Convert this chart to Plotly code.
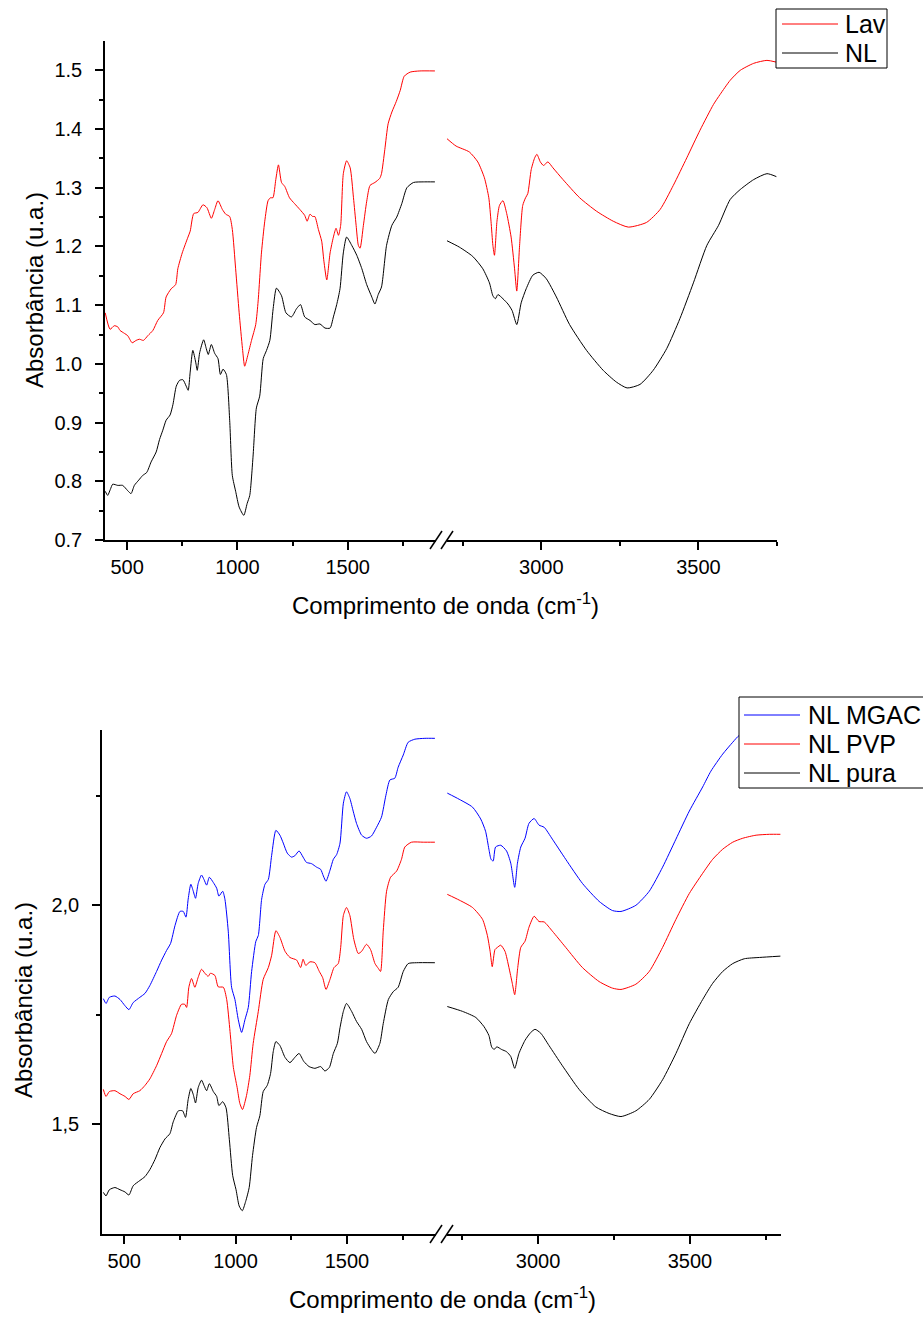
import plotly.graph_objects as go

W, H = 923, 1318

# ---- spectra (wavenumber cm-1, absorbance) ----
# top panel, 400-1900 cm-1
wn_lav_low = [401, 423, 442, 458, 468, 488, 503, 523, 541, 556,
              574, 594, 617, 639, 665, 677, 700, 720, 730, 750,
              776, 786, 802, 821, 844, 862, 882, 897, 912, 932,
              947, 965, 977, 992, 1008, 1023, 1033, 1048, 1064, 1083,
              1094, 1109, 1124, 1139, 1150, 1161, 1174, 1186, 1200, 1215,
              1236, 1259, 1283, 1305, 1316, 1329, 1341, 1351, 1367, 1382,
              1392, 1405, 1420, 1435, 1447, 1458, 1468, 1480, 1495, 1511,
              1526, 1538, 1548, 1556, 1571, 1586, 1601, 1623, 1645, 1653,
              1668, 1683, 1700, 1720, 1738, 1756, 1783, 1827, 1895]
abs_lav_low = [1.087, 1.059, 1.065, 1.063, 1.057, 1.052, 1.048, 1.036, 1.040, 1.042,
               1.040, 1.048, 1.057, 1.074, 1.087, 1.114, 1.128, 1.135, 1.162, 1.189,
               1.216, 1.226, 1.256, 1.258, 1.271, 1.266, 1.248, 1.263, 1.278, 1.263,
               1.255, 1.251, 1.229, 1.162, 1.087, 1.026, 0.996, 1.016, 1.040, 1.067,
               1.107, 1.189, 1.243, 1.278, 1.283, 1.283, 1.314, 1.339, 1.309, 1.302,
               1.283, 1.273, 1.263, 1.253, 1.243, 1.255, 1.251, 1.251, 1.229, 1.209,
               1.175, 1.143, 1.189, 1.216, 1.231, 1.219, 1.236, 1.324, 1.346, 1.334,
               1.283, 1.236, 1.202, 1.197, 1.236, 1.277, 1.304, 1.309, 1.316, 1.324,
               1.365, 1.409, 1.429, 1.447, 1.466, 1.490, 1.497, 1.499, 1.499]

wn_nl_low = [401, 412, 424, 435, 458, 480, 503, 518, 533, 553,
             571, 589, 609, 632, 647, 662, 677, 695, 708, 723,
             738, 753, 768, 777, 786, 798, 811, 818, 829, 847,
             859, 868, 882, 897, 912, 923, 935, 950, 965, 977,
             992, 1008, 1029, 1044, 1056, 1071, 1086, 1101, 1117, 1132,
             1147, 1162, 1177, 1200, 1220, 1245, 1268, 1286, 1305, 1329,
             1351, 1374, 1397, 1420, 1435, 1450, 1465, 1480, 1495, 1518,
             1541, 1564, 1586, 1609, 1623, 1638, 1653, 1676, 1700, 1722,
             1745, 1768, 1798, 1842, 1895]
abs_nl_low = [0.783, 0.776, 0.786, 0.795, 0.793, 0.793, 0.784, 0.779, 0.793, 0.802,
              0.810, 0.815, 0.833, 0.850, 0.871, 0.887, 0.904, 0.913, 0.931, 0.962,
              0.972, 0.973, 0.962, 0.955, 0.986, 1.023, 1.003, 0.989, 1.019, 1.041,
              1.026, 1.016, 1.033, 1.018, 1.009, 0.982, 0.991, 0.982, 0.904, 0.810,
              0.783, 0.756, 0.742, 0.762, 0.776, 0.843, 0.925, 0.945, 1.009, 1.023,
              1.040, 1.094, 1.129, 1.116, 1.087, 1.080, 1.094, 1.101, 1.080, 1.074,
              1.067, 1.068, 1.061, 1.061, 1.080, 1.101, 1.128, 1.189, 1.216, 1.202,
              1.185, 1.162, 1.135, 1.114, 1.102, 1.118, 1.131, 1.202, 1.236, 1.250,
              1.273, 1.300, 1.309, 1.310, 1.310]

# top panel, 2700-3750 cm-1
wn_lav_high = [2699, 2729, 2771, 2798, 2819, 2833, 2840, 2846, 2851, 2859,
               2867, 2878, 2890, 2904, 2915, 2922, 2931, 2941, 2950, 2957,
               2968, 2979, 2986, 2997, 3007, 3021, 3037, 3069, 3122, 3176,
               3229, 3277, 3335, 3378, 3420, 3463, 3505, 3548, 3569, 3601,
               3633, 3676, 3718, 3748]
abs_lav_high = [1.384, 1.371, 1.361, 1.344, 1.317, 1.283, 1.243, 1.202, 1.185, 1.243,
                1.270, 1.278, 1.256, 1.216, 1.162, 1.124, 1.202, 1.270, 1.283, 1.290,
                1.331, 1.351, 1.357, 1.344, 1.338, 1.344, 1.334, 1.314, 1.283, 1.260,
                1.243, 1.233, 1.241, 1.263, 1.304, 1.351, 1.398, 1.442, 1.459, 1.483,
                1.500, 1.512, 1.517, 1.514]

wn_nl_high = [2699, 2739, 2782, 2814, 2835, 2846, 2854, 2862, 2878, 2894,
              2907, 2922, 2936, 2952, 2973, 2993, 3016, 3048, 3090, 3144,
              3197, 3239, 3273, 3314, 3356, 3399, 3441, 3484, 3527, 3564,
              3601, 3633, 3676, 3718, 3748]
abs_nl_high = [1.210, 1.199, 1.183, 1.162, 1.138, 1.116, 1.111, 1.118, 1.111, 1.102,
               1.091, 1.067, 1.104, 1.128, 1.151, 1.156, 1.145, 1.114, 1.067, 1.023,
               0.989, 0.969, 0.959, 0.965, 0.989, 1.026, 1.077, 1.138, 1.202, 1.236,
               1.280, 1.297, 1.314, 1.324, 1.319]

# bottom panel, 400-1900 cm-1
wn_mgac_low = [406, 418, 433, 458, 481, 503, 521, 540, 570, 593,
               615, 645, 668, 690, 708, 728, 750, 765, 777, 787,
               799, 810, 820, 832, 847, 858, 870, 882, 900, 915,
               925, 942, 952, 967, 982, 997, 1012, 1027, 1042, 1057,
               1072, 1091, 1102, 1117, 1132, 1147, 1162, 1181, 1199, 1214,
               1232, 1251, 1266, 1285, 1303, 1318, 1341, 1364, 1382, 1394,
               1406, 1424, 1439, 1454, 1469, 1484, 1498, 1513, 1528, 1543,
               1566, 1588, 1610, 1633, 1655, 1675, 1693, 1715, 1730, 1753,
               1775, 1805, 1850, 1895]
abs_mgac_low = [1.787, 1.776, 1.790, 1.793, 1.785, 1.771, 1.762, 1.778, 1.790, 1.799,
                1.817, 1.849, 1.875, 1.897, 1.913, 1.954, 1.986, 1.986, 1.973, 2.014,
                2.048, 2.032, 2.016, 2.050, 2.069, 2.059, 2.046, 2.064, 2.052, 2.039,
                2.021, 2.032, 2.014, 1.941, 1.813, 1.785, 1.739, 1.710, 1.739, 1.767,
                1.849, 1.918, 1.931, 2.014, 2.048, 2.059, 2.114, 2.171, 2.160, 2.142,
                2.119, 2.110, 2.113, 2.124, 2.110, 2.098, 2.095, 2.087, 2.082, 2.067,
                2.055, 2.080, 2.105, 2.116, 2.142, 2.233, 2.259, 2.244, 2.215, 2.187,
                2.160, 2.153, 2.158, 2.178, 2.201, 2.251, 2.286, 2.290, 2.315, 2.343,
                2.372, 2.379, 2.381, 2.381]

wn_pvp_low = [406, 418, 433, 458, 481, 503, 521, 540, 570, 593,
              615, 645, 668, 690, 712, 735, 757, 772, 780, 790,
              802, 817, 832, 847, 862, 877, 887, 907, 922, 945,
              960, 975, 990, 1007, 1019, 1031, 1049, 1064, 1079, 1102,
              1124, 1147, 1162, 1181, 1199, 1222, 1244, 1274, 1292, 1303,
              1315, 1334, 1356, 1376, 1391, 1406, 1424, 1442, 1461, 1472,
              1484, 1498, 1513, 1531, 1551, 1566, 1588, 1606, 1626, 1641,
              1651, 1663, 1678, 1696, 1723, 1745, 1760, 1790, 1843, 1895]
abs_pvp_low = [1.580, 1.564, 1.575, 1.577, 1.570, 1.564, 1.557, 1.570, 1.577, 1.589,
               1.604, 1.634, 1.662, 1.689, 1.707, 1.749, 1.774, 1.774, 1.767, 1.813,
               1.833, 1.813, 1.836, 1.854, 1.845, 1.838, 1.845, 1.840, 1.814, 1.813,
               1.785, 1.712, 1.630, 1.584, 1.548, 1.534, 1.566, 1.612, 1.685, 1.758,
               1.831, 1.858, 1.886, 1.942, 1.927, 1.895, 1.881, 1.875, 1.858, 1.877,
               1.863, 1.871, 1.869, 1.849, 1.835, 1.808, 1.831, 1.858, 1.867, 1.904,
               1.977, 1.995, 1.977, 1.922, 1.890, 1.895, 1.911, 1.899, 1.867, 1.856,
               1.849, 1.941, 2.032, 2.064, 2.078, 2.105, 2.133, 2.144, 2.144, 2.144]

wn_pura_low = [406, 418, 433, 458, 481, 503, 521, 540, 570, 593,
               615, 638, 660, 683, 705, 720, 743, 762, 775, 787,
               799, 810, 820, 832, 847, 858, 870, 882, 900, 915,
               925, 942, 957, 972, 987, 1002, 1016, 1030, 1045, 1061,
               1076, 1094, 1109, 1124, 1142, 1157, 1169, 1181, 1199, 1222,
               1244, 1266, 1285, 1306, 1330, 1356, 1382, 1401, 1421, 1439,
               1457, 1469, 1484, 1498, 1521, 1543, 1566, 1588, 1610, 1626,
               1648, 1663, 1686, 1708, 1730, 1753, 1775, 1812, 1895]
abs_pura_low = [1.345, 1.337, 1.351, 1.356, 1.351, 1.346, 1.339, 1.360, 1.372, 1.381,
                1.397, 1.420, 1.447, 1.467, 1.479, 1.506, 1.531, 1.531, 1.516, 1.557,
                1.582, 1.568, 1.549, 1.584, 1.601, 1.589, 1.577, 1.593, 1.575, 1.564,
                1.543, 1.552, 1.538, 1.465, 1.383, 1.351, 1.314, 1.303, 1.324, 1.356,
                1.429, 1.493, 1.520, 1.575, 1.589, 1.616, 1.666, 1.689, 1.680, 1.653,
                1.641, 1.653, 1.662, 1.644, 1.632, 1.628, 1.632, 1.622, 1.630, 1.662,
                1.685, 1.721, 1.758, 1.776, 1.758, 1.735, 1.717, 1.689, 1.671, 1.662,
                1.685, 1.730, 1.785, 1.803, 1.813, 1.849, 1.867, 1.869, 1.869]

# bottom panel, 2700-3800 cm-1
wn_mgac_high = [2701, 2740, 2784, 2811, 2827, 2838, 2845, 2852, 2860, 2877,
                2896, 2910, 2923, 2932, 2943, 2957, 2970, 2987, 3003, 3020,
                3047, 3091, 3146, 3201, 3245, 3273, 3322, 3366, 3410, 3454,
                3498, 3542, 3569, 3608, 3641, 3663, 3700, 3750, 3798]
abs_mgac_high = [2.256, 2.242, 2.224, 2.197, 2.169, 2.128, 2.105, 2.101, 2.133, 2.137,
                 2.124, 2.096, 2.041, 2.096, 2.133, 2.153, 2.187, 2.198, 2.183, 2.178,
                 2.151, 2.105, 2.050, 2.009, 1.988, 1.986, 2.000, 2.032, 2.087, 2.151,
                 2.215, 2.270, 2.306, 2.345, 2.372, 2.388, 2.395, 2.398, 2.398]

wn_pvp_high = [2701, 2740, 2784, 2817, 2833, 2842, 2849, 2858, 2866, 2877,
               2891, 2904, 2915, 2923, 2933, 2943, 2957, 2970, 2987, 3003,
               3020, 3047, 3091, 3146, 3201, 3245, 3273, 3322, 3366, 3410,
               3454, 3498, 3542, 3575, 3608, 3641, 3674, 3718, 3762, 3798]
abs_pvp_high = [2.025, 2.012, 1.995, 1.968, 1.931, 1.895, 1.860, 1.899, 1.904, 1.909,
                1.895, 1.858, 1.822, 1.796, 1.858, 1.904, 1.918, 1.950, 1.975, 1.963,
                1.962, 1.941, 1.904, 1.858, 1.826, 1.811, 1.808, 1.820, 1.849, 1.904,
                1.968, 2.027, 2.073, 2.105, 2.128, 2.144, 2.153, 2.160, 2.162, 2.162]

wn_pura_high = [2701, 2751, 2795, 2822, 2838, 2847, 2855, 2864, 2880, 2896,
                2910, 2923, 2937, 2957, 2976, 2990, 3009, 3036, 3080, 3135,
                3190, 3234, 3273, 3322, 3366, 3410, 3454, 3498, 3542, 3575,
                3608, 3641, 3679, 3729, 3798]
abs_pura_high = [1.769, 1.758, 1.744, 1.723, 1.703, 1.677, 1.671, 1.677, 1.671, 1.666,
                 1.655, 1.628, 1.662, 1.692, 1.710, 1.717, 1.708, 1.680, 1.634, 1.580,
                 1.540, 1.525, 1.518, 1.531, 1.557, 1.602, 1.662, 1.730, 1.785, 1.822,
                 1.849, 1.867, 1.878, 1.881, 1.884]

top_names = ['Lav', 'NL']
top_colors = ['#ff0000', '#000000']
bottom_names = ['NL MGAC', 'NL PVP', 'NL pura']
bottom_colors = ['#0000ff', '#ff0000', '#000000']

FONT = 'Liberation Sans, Arial, sans-serif'


def fx(px):
    return px / W


def fy(py):
    return 1 - py / H


fig = go.Figure()


def add_line(x, y, color, xa, ya):
    fig.add_trace(go.Scatter(
        x=x, y=y, mode='lines',
        line=dict(color=color, width=1, shape='spline', smoothing=0.6),
        xaxis=xa, yaxis=ya,
        showlegend=False, hoverinfo='skip',
    ))


# top panel
add_line(wn_lav_low, abs_lav_low, top_colors[0], 'x', 'y')
add_line(wn_nl_low, abs_nl_low, top_colors[1], 'x', 'y')
add_line(wn_lav_high, abs_lav_high, top_colors[0], 'x2', 'y')
add_line(wn_nl_high, abs_nl_high, top_colors[1], 'x2', 'y')

# bottom panel
add_line(wn_mgac_low, abs_mgac_low, bottom_colors[0], 'x3', 'y2')
add_line(wn_pvp_low, abs_pvp_low, bottom_colors[1], 'x3', 'y2')
add_line(wn_pura_low, abs_pura_low, bottom_colors[2], 'x3', 'y2')
add_line(wn_mgac_high, abs_mgac_high, bottom_colors[0], 'x4', 'y2')
add_line(wn_pvp_high, abs_pvp_high, bottom_colors[1], 'x4', 'y2')
add_line(wn_pura_high, abs_pura_high, bottom_colors[2], 'x4', 'y2')

tick_font = dict(family=FONT, size=20, color='black')


def axis(domain, rng, vals, minor_vals, anchor, ticktext=None, vertical=False):
    dom = [fy(domain[1]), fy(domain[0])] if vertical else [fx(domain[0]), fx(domain[1])]
    ax = dict(
        domain=dom, range=rng, anchor=anchor,
        showline=True, linecolor='black', linewidth=1.5, mirror=False,
        ticks='outside', ticklen=8, tickwidth=1.5, tickcolor='black',
        tickmode='array', tickvals=vals, tickfont=tick_font,
        showgrid=False, zeroline=False, fixedrange=True,
        minor=dict(tickmode='array', tickvals=minor_vals, ticks='outside',
                   ticklen=4, tickwidth=1.5, tickcolor='black', showgrid=False),
    )
    if vertical:
        ax['ticklabelstandoff'] = 9
    if ticktext is not None:
        ax['ticktext'] = ticktext
    return ax


top_y_ticks = [0.7, 0.8, 0.9, 1.0, 1.1, 1.2, 1.3, 1.4, 1.5]
top_y_minor = [0.75, 0.85, 0.95, 1.05, 1.15, 1.25, 1.35, 1.45]

fig.update_layout(
    width=W, height=H,
    margin=dict(l=0, r=0, t=0, b=0, autoexpand=False),
    paper_bgcolor='white', plot_bgcolor='white',
    showlegend=False,
    font=dict(family=FONT, color='black'),
    xaxis=axis([105, 436], [400, 1900], [500, 1000, 1500], [750, 1250, 1750], 'y'),
    xaxis2=axis([447, 777], [2700, 3750], [3000, 3500], [2750, 3250, 3750], 'y'),
    yaxis=axis([41, 540], [0.7, 1.55], top_y_ticks, top_y_minor, 'x',
               ticktext=[f'{v:.1f}' for v in top_y_ticks], vertical=True),
    xaxis3=axis([102, 436], [400, 1900], [500, 1000, 1500], [750, 1250, 1750], 'y2'),
    xaxis4=axis([447, 781], [2700, 3800], [3000, 3500], [2750, 3250, 3750], 'y2'),
    yaxis2=axis([730, 1234], [1.25, 2.4], [1.5, 2.0], [1.75, 2.25], 'x3',
                ticktext=['1,5', '2,0'], vertical=True),
)

shapes = []
annotations = []

# axis break marks "//"
for base in (540, 1234):
    for cx in (436, 447):
        shapes.append(dict(type='line', xref='paper', yref='paper',
                           x0=fx(cx - 6), y0=fy(base + 9), x1=fx(cx + 6), y1=fy(base - 9),
                           line=dict(color='black', width=1.5), layer='above'))

# axis titles
xtitle = 'Comprimento de onda (cm<sup>-1</sup>)'
ytitle = 'Absorbância (u.a.)'
for cx, cy in ((445, 604), (442, 1298)):
    annotations.append(dict(text=xtitle, xref='paper', yref='paper', x=fx(cx), y=fy(cy),
                            xanchor='center', yanchor='middle', showarrow=False,
                            font=dict(family=FONT, size=24, color='black')))
for cx, cy in ((35, 290), (23, 1000)):
    annotations.append(dict(text=ytitle, xref='paper', yref='paper', x=fx(cx), y=fy(cy),
                            xanchor='center', yanchor='middle', showarrow=False, textangle=-90,
                            font=dict(family=FONT, size=24, color='black')))


def legend_box(x0, y0, x1, y1, names, colors, row0, step, line_x0, line_x1, text_x):
    shapes.append(dict(type='rect', xref='paper', yref='paper',
                       x0=fx(x0), y0=fy(y1), x1=fx(x1), y1=fy(y0),
                       fillcolor='white', line=dict(color='black', width=1), layer='above'))
    for i, (name, color) in enumerate(zip(names, colors)):
        ry = row0 + i * step
        shapes.append(dict(type='line', xref='paper', yref='paper',
                           x0=fx(line_x0), y0=fy(ry), x1=fx(line_x1), y1=fy(ry),
                           line=dict(color=color, width=1), layer='above'))
        annotations.append(dict(text=name, xref='paper', yref='paper', x=fx(text_x), y=fy(ry),
                                xanchor='left', yanchor='middle', showarrow=False,
                                font=dict(family=FONT, size=25, color='black')))


legend_box(776, 9, 887, 68, top_names, top_colors, 24, 29, 782, 838, 843)
legend_box(739, 697, 940, 788, bottom_names, bottom_colors, 715, 29, 744, 800, 806)

fig.update_layout(shapes=shapes, annotations=annotations)

# the page's default 8px body margin would shift the whole figure
fig.write_html("out.html", config={'displayModeBar': False},
               post_script="document.body.style.margin = '0';")
